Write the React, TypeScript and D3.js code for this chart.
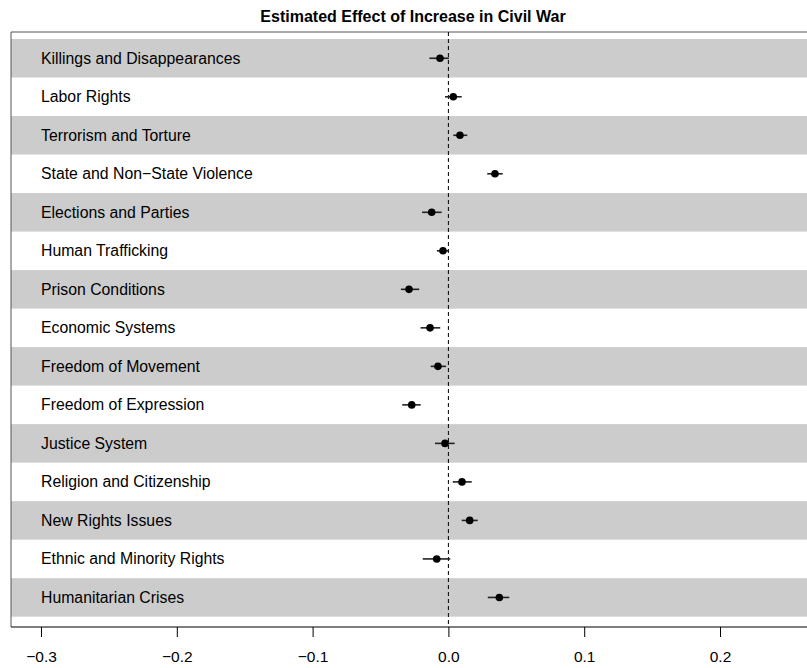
// Coefficient plot: estimated effect of increase in civil war, one row per topic
import React, { useEffect, useRef } from 'react';
import * as d3 from 'd3';

// Row labels, top to bottom
const topics: string[] = [
  'Killings and Disappearances',
  'Labor Rights',
  'Terrorism and Torture',
  'State and Non\u2212State Violence',
  'Elections and Parties',
  'Human Trafficking',
  'Prison Conditions',
  'Economic Systems',
  'Freedom of Movement',
  'Freedom of Expression',
  'Justice System',
  'Religion and Citizenship',
  'New Rights Issues',
  'Ethnic and Minority Rights',
  'Humanitarian Crises',
];

// Point estimates and interval bounds
const estimates: number[] = [
  -0.0062, 0.0036, 0.0085, 0.0343, -0.0123, -0.004, -0.029, -0.0135, -0.0077, -0.027, -0.0025, 0.01,
  0.0157, -0.0086, 0.0375,
];
const lower: number[] = [
  -0.014, -0.0025, 0.0036, 0.0286, -0.0194, -0.0085, -0.035, -0.0205, -0.013, -0.034, -0.0099, 0.0032,
  0.0098, -0.0189, 0.029,
];
const upper: number[] = [
  0.0004, 0.0098, 0.0139, 0.04, -0.005, 0.0005, -0.0215, -0.006, -0.0017, -0.0204, 0.0046, 0.0172,
  0.0216, 0.0014, 0.0448,
];

// Axis ticks
const xTicks: number[] = [-0.3, -0.2, -0.1, 0, 0.1, 0.2];

const title = 'Estimated Effect of Increase in Civil War';

const App: React.FC = () => {
  const svgRef = useRef<SVGSVGElement | null>(null);

  useEffect(() => {
    const svg = d3.select(svgRef.current);
    svg.selectAll('*').remove();

    const width = 807;
    const height = 668;
    const box = { left: 11, top: 32, right: 815, bottom: 627 };
    const font = "'Liberation Sans', Arial, Helvetica, sans-serif";

    svg.attr('width', width).attr('height', height);

    // x: value -> pixel, y: row index -> pixel (row 1 at the top)
    const x = d3.scaleLinear().domain([-0.3, 0.2]).range([41, 720]);
    const y = d3.scaleLinear().domain([0.5, topics.length + 0.5]).range([39, 616.7]);
    const rowH = y(1.5) - y(0.5);

    // alternating grey bands
    svg
      .append('g')
      .selectAll('rect')
      .data(topics.filter((_, i) => i % 2 === 0).map((_, k) => k * 2 + 1))
      .join('rect')
      .attr('x', box.left)
      .attr('y', d => y(d - 0.5))
      .attr('width', box.right - box.left)
      .attr('height', rowH)
      .attr('fill', '#cccccc');

    // plot box (left and top edges)
    svg
      .append('path')
      .attr('d', `M${box.left},${box.bottom}V${box.top}H${box.right}`)
      .attr('fill', 'none')
      .attr('stroke', '#555')
      .attr('stroke-width', 1);

    // zero reference line
    svg
      .append('line')
      .attr('x1', x(0))
      .attr('x2', x(0))
      .attr('y1', box.top)
      .attr('y2', box.bottom)
      .attr('stroke', '#000')
      .attr('stroke-width', 1)
      .attr('stroke-dasharray', '4,3');

    // row labels
    svg
      .append('g')
      .selectAll('text')
      .data(topics)
      .join('text')
      .attr('x', 41)
      .attr('y', (_, i) => y(i + 1))
      .attr('dy', '0.34em')
      .attr('font-family', font)
      .attr('font-size', 15.8)
      .attr('fill', '#000')
      .text(d => d);

    // intervals
    svg
      .append('g')
      .selectAll('line')
      .data(topics)
      .join('line')
      .attr('x1', (_, i) => x(lower[i]))
      .attr('x2', (_, i) => x(upper[i]))
      .attr('y1', (_, i) => y(i + 1))
      .attr('y2', (_, i) => y(i + 1))
      .attr('stroke', '#222')
      .attr('stroke-width', 1.6);

    // point estimates
    svg
      .append('g')
      .selectAll('circle')
      .data(estimates)
      .join('circle')
      .attr('cx', d => x(d))
      .attr('cy', (_, i) => y(i + 1))
      .attr('r', 3.8)
      .attr('fill', '#000');

    // bottom axis
    const axis = svg
      .append('g')
      .attr('transform', `translate(0,${box.bottom})`)
      .call(
        d3
          .axisBottom(x)
          .tickValues(xTicks)
          .tickSize(10)
          .tickPadding(14)
          .tickFormat(d => d3.format('.1f')(d as number).replace('-', '\u2212'))
      );
    axis.select('.domain').attr('d', `M${box.left},0H${width + 10}`).attr('stroke', '#000');
    axis.selectAll('.tick line').attr('stroke', '#000');
    axis
      .selectAll('.tick text')
      .attr('font-family', font)
      .attr('font-size', 15.5)
      .attr('fill', '#000');

    // title
    svg
      .append('text')
      .attr('x', (box.left + box.right) / 2)
      .attr('y', 22)
      .attr('text-anchor', 'middle')
      .attr('font-family', font)
      .attr('font-weight', 'bold')
      .attr('font-size', 16)
      .text(title);
  }, []);

  return (
    <div style={{ position: 'absolute', left: 0, top: 0 }}>
      <svg ref={svgRef}></svg>
    </div>
  );
};

export default App;
